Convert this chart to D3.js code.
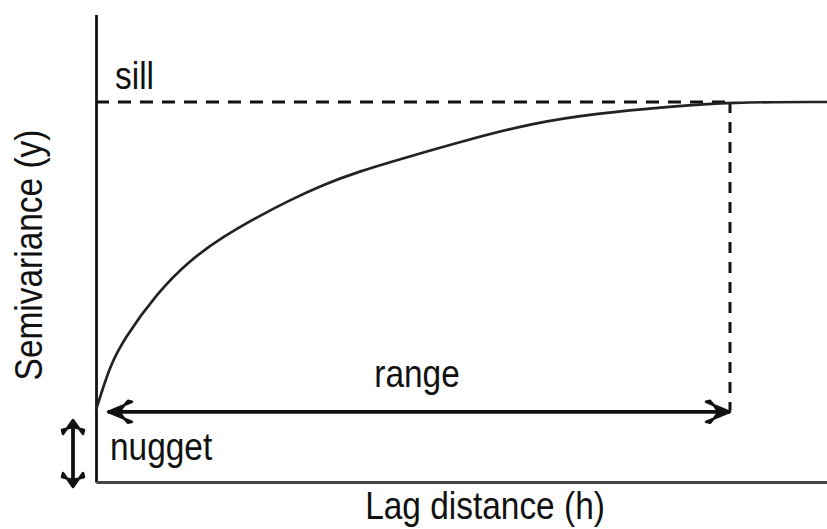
<!DOCTYPE html>
<html>
<head>
<meta charset="utf-8">
<script src="https://cdn.jsdelivr.net/npm/d3@7"></script>
<style>
  body { margin: 0; background: #fff; }
  text { font-family: "Liberation Sans", Arial, sans-serif; fill: #111; }
</style>
</head>
<body>
<div id="chart"></div>
<script>
// semivariogram sketch

// values (lag scaled so range = 1, semivariance so sill = 1)
const lag   = [0, 0.011, 0.022, 0.043, 0.096, 0.148, 0.200, 0.254, 0.306, 0.358, 0.412, 0.491, 0.585, 0.689, 0.795, 0.900, 1.0, 1.153];
const gamma = [0.19, 0.247, 0.303, 0.374, 0.497, 0.584, 0.645, 0.697, 0.742, 0.782, 0.816, 0.855, 0.900, 0.945, 0.971, 0.987, 1.0, 1.0];

const nugget = 0.19
const sill = 1.0
const range = 1.0
const lagMax = 1.153
const gammaMax = 1.23

const labels = {
  x: "Lag distance (h)",
  y: "Semivariance (y)",
  sill: "sill",
  range: "range",
  nugget: "nugget"
}

const width = 827
const height = 529

const x = d3.scaleLinear().domain([0, range]).range([96, 730])
const y = d3.scaleLinear().domain([0, sill]).range([482, 102])

const svg = d3.select("#chart").append("svg")
  .attr("width", width)
  .attr("height", height)

svg.append("rect").attr("width", width).attr("height", height).attr("fill", "#fff")

const defs = svg.append("defs")
// barbed arrow heads
function addMarker(id, len, half) {
  defs.append("marker")
    .attr("id", id)
    .attr("viewBox", `${-len - 4} ${-half - 4} ${len + 8} ${half * 2 + 8}`)
    .attr("markerUnits", "userSpaceOnUse")
    .attr("markerWidth", len + 8)
    .attr("markerHeight", half * 2 + 8)
    .attr("refX", 0)
    .attr("refY", 0)
    .attr("orient", "auto-start-reverse")
    .append("path")
    .attr("d", `M0,0 L${-len},${-half} L${-len + 4},${-half - 1} Q${-len * 0.55},${-half * 0.35} ${-len * 0.5},0 Q${-len * 0.55},${half * 0.35} ${-len + 4},${half + 1} L${-len},${half} Z`)
    .attr("fill", "#111")
    .attr("stroke", "#111")
    .attr("stroke-width", 2.5)
    .attr("stroke-linejoin", "round")
}
addMarker("arrowBig", 24, 10)
addMarker("arrowSmall", 14, 10)

// axes without ticks
const yAxisScale = y.copy().domain([0, gammaMax]).range([y(0), y(gammaMax)])
const xAxisScale = x.copy().domain([0, lagMax]).range([x(0), x(lagMax)])

const yAxis = svg.append("g")
  .attr("transform", `translate(${x(0)},0)`)
  .call(d3.axisLeft(yAxisScale).tickValues([]).tickSizeOuter(0))
yAxis.select(".domain").attr("stroke", "#111").attr("stroke-width", 2.8)

const xAxis = svg.append("g")
  .attr("transform", `translate(0,${y(0)})`)
  .call(d3.axisBottom(xAxisScale).tickValues([]).tickSizeOuter(0))
xAxis.select(".domain").attr("stroke", "#444").attr("stroke-width", 2.8)

// sill + range dashed guides
svg.append("line")
  .attr("x1", x(0)).attr("x2", x(range))
  .attr("y1", y(sill)).attr("y2", y(sill))
  .attr("stroke", "#111").attr("stroke-width", 3)
  .attr("stroke-dasharray", "13,9")

svg.append("line")
  .attr("x1", x(range)).attr("x2", x(range))
  .attr("y1", y(sill)).attr("y2", y(nugget) + 1)
  .attr("stroke", "#111").attr("stroke-width", 3)
  .attr("stroke-dasharray", "11,9")

// the model curve
const line = d3.line()
  .curve(d3.curveBasis)
  .x((d, i) => x(lag[i]))
  .y(d => y(d))

svg.append("path")
  .datum(gamma)
  .attr("d", line)
  .attr("fill", "none")
  .attr("stroke", "#222")
  .attr("stroke-width", 2.7)

// range arrow
svg.append("line")
  .attr("x1", x(0) + 12).attr("x2", x(range))
  .attr("y1", y(nugget) + 2).attr("y2", y(nugget) + 2)
  .attr("stroke", "#111").attr("stroke-width", 3.8)
  .attr("marker-start", "url(#arrowBig)")
  .attr("marker-end", "url(#arrowBig)")

// nugget arrow
svg.append("line")
  .attr("x1", 73).attr("x2", 73)
  .attr("y1", 420).attr("y2", 487)
  .attr("stroke", "#111").attr("stroke-width", 3.8)
  .attr("marker-start", "url(#arrowSmall)")
  .attr("marker-end", "url(#arrowSmall)")

// labels (the source art is slightly squeezed horizontally)
function label(txt, tx, ty, anchor, rot) {
  svg.append("text")
    .attr("transform", `translate(${tx},${ty})${rot ? " rotate(" + rot + ")" : ""} scale(0.88,1)`)
    .attr("text-anchor", anchor)
    .attr("font-size", 38)
    .text(txt)
}

label(labels.sill, 115, 89, "start")
label(labels.range, 417, 387, "middle")
label(labels.nugget, 110, 460, "start")
label(labels.x, 485, 519, "middle")
label(labels.y, 42, 255, "middle", -90)
</script>
</body>
</html>
